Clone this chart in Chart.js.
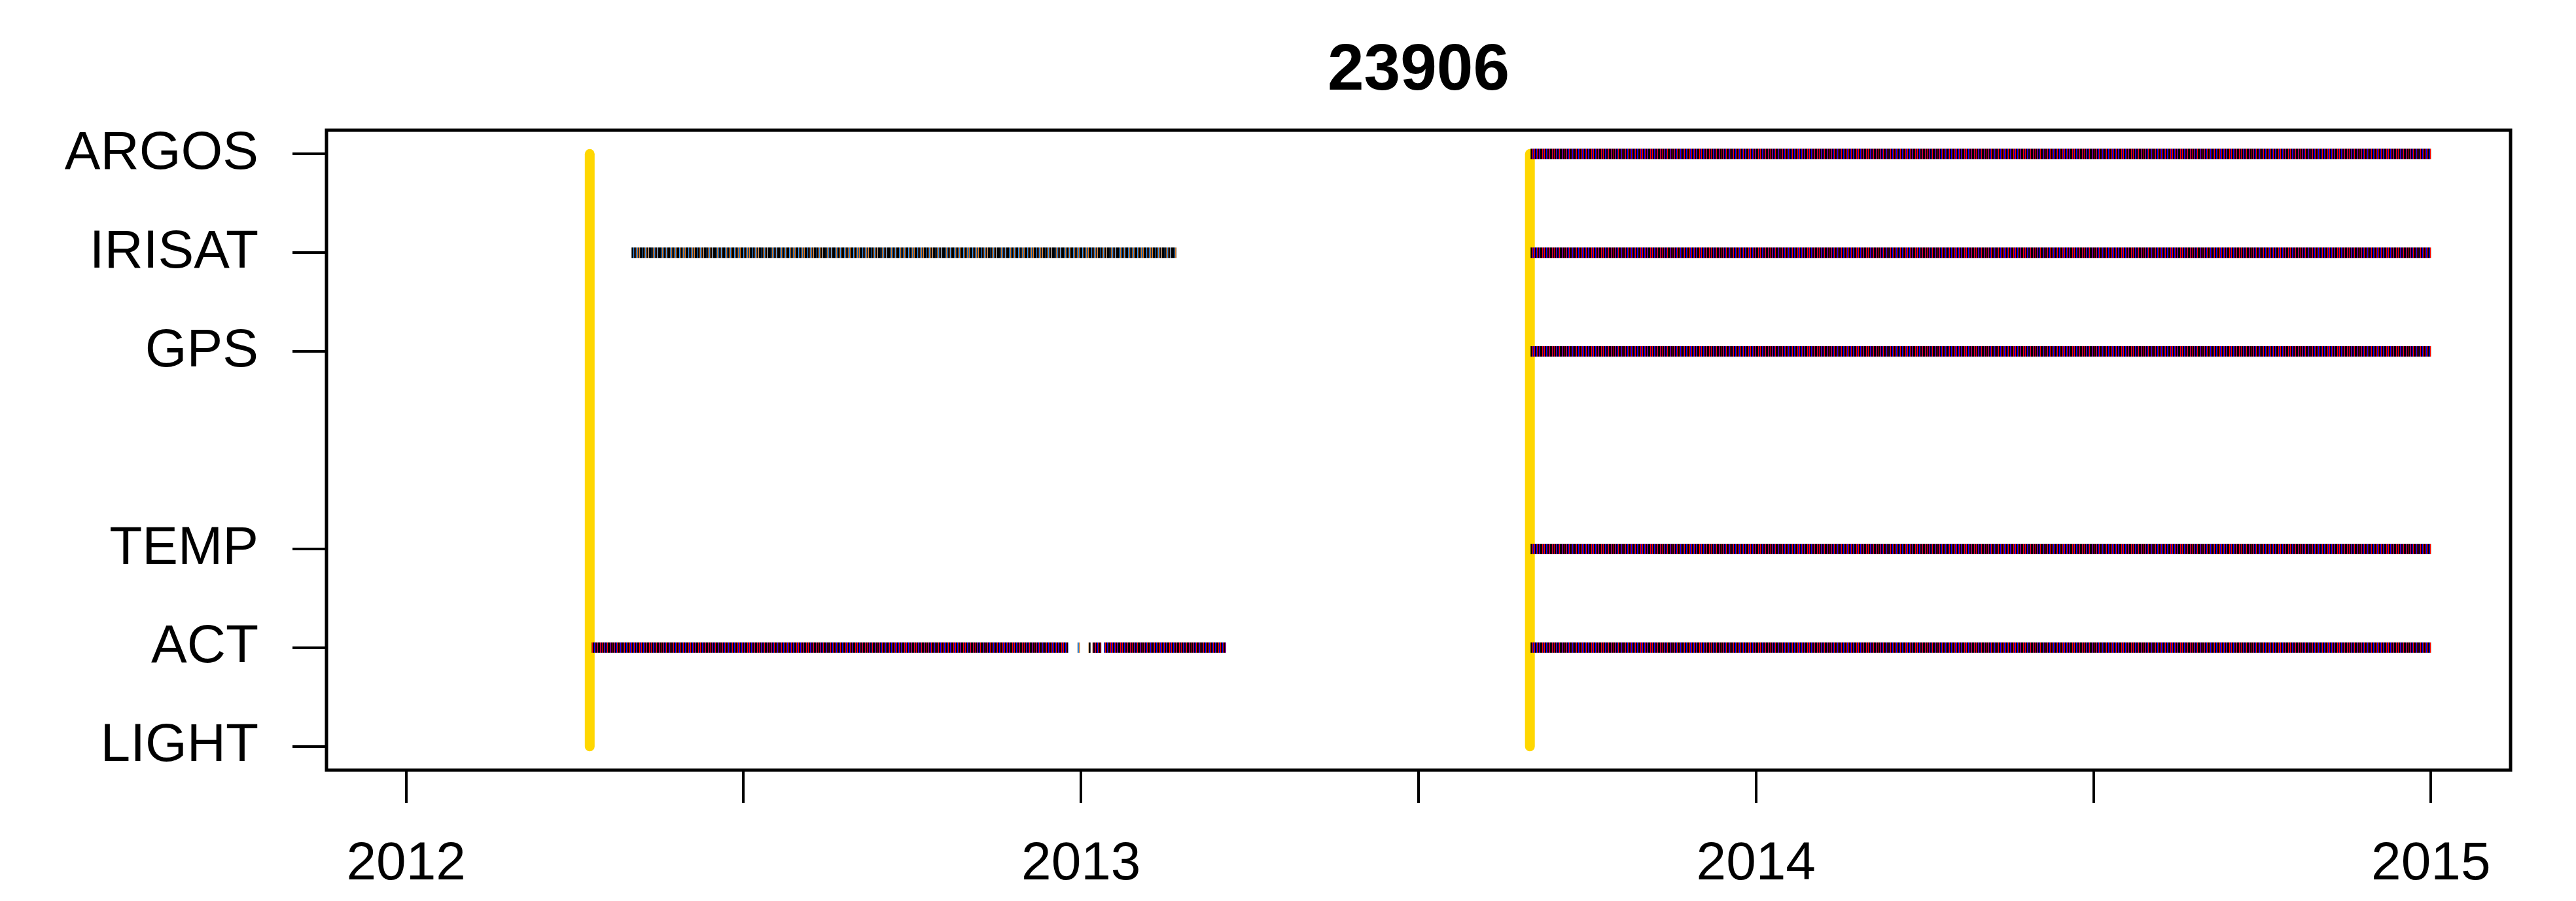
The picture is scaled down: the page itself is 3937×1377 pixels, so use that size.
<!DOCTYPE html>
<html lang="en">
<head>
    <meta charset="UTF-8">
    <title>23906</title>
    <script src="https://cdn.jsdelivr.net/npm/chart.js"></script>
    <style>
        body { margin: 0; background: #fff; }
        canvas { display: block; }
    </style>
</head>
<body>
    <canvas id="chart" width="3937" height="1377"></canvas>

    <script>
        // title and axes
        const chartTitle = "23906";
        const sensorNames = ["LIGHT", "ACT", "TEMP", "GPS", "IRISAT", "ARGOS"];
        const sensorRows = [1, 2, 3, 5, 6, 7];
        const xTicks = [2012, 2012.5, 2013, 2013.5, 2014, 2014.5, 2015];
        const xTickLabels = ["2012", "", "2013", "", "2014", "", "2015"];

        // deployment dates (decimal years)
        const deployDates = [2012.272, 2013.665];

        // recording periods, one entry per segment
        const segSensor = ["IRISAT", "ACT", "ACT", "ACT", "ACT", "ACT",
                           "ARGOS", "IRISAT", "GPS", "TEMP", "ACT"];
        const segStart = [2012.334, 2012.275, 2012.995, 2013.011, 2013.017, 2013.034,
                          2013.666, 2013.666, 2013.666, 2013.666, 2013.666];
        const segEnd = [2013.141, 2012.981, 2012.998, 2013.014, 2013.030, 2013.215,
                        2015.0, 2015.0, 2015.0, 2015.0, 2015.0];
        const segPalette = ["irisat", "tag", "irisat", "irisat", "tag", "tag",
                            "tag", "tag", "tag", "tag", "tag"];

        // striped strokes, like the many per-day marks in the original
        function stripes(colors) {
            const c = document.createElement("canvas");
            c.width = colors.length;
            c.height = 1;
            const g = c.getContext("2d");
            colors.forEach((col, i) => { g.fillStyle = col; g.fillRect(i, 0, 1, 1); });
            return g.createPattern(c, "repeat");
        }
        const patterns = {
            tag: stripes(["#000", "#000", "#f00", "#00f", "#000", "#f00", "#000", "#000",
                          "#00f", "#f00", "#000", "#000", "#00f", "#f00", "#000"]),
            irisat: stripes(["#000", "#000", "#3399ff", "#000", "#e07b20", "#000", "#3399ff",
                             "#000", "#e07b20", "#000", "#3399ff", "#e07b20", "#000", "#000"])
        };

        function rowOf(name) {
            return sensorRows[sensorNames.indexOf(name)];
        }

        const datasets = [];
        segSensor.forEach((s, i) => {
            datasets.push({
                data: [{ x: segStart[i], y: rowOf(s) }, { x: segEnd[i], y: rowOf(s) }],
                borderColor: patterns[segPalette[i]],
                borderWidth: 16,
                borderCapStyle: "butt",
                pointRadius: 0,
                order: 0
            });
        });
        deployDates.forEach(d => {
            datasets.push({
                data: [{ x: d, y: sensorRows[0] }, { x: d, y: sensorRows[sensorRows.length - 1] }],
                borderColor: "#ffd700",
                borderWidth: 15,
                borderCapStyle: "round",
                pointRadius: 0,
                order: 1
            });
        });

        const frame = {
            id: "frame",
            afterDraw(chart) {
                const ctx = chart.ctx;
                const a = chart.chartArea;
                ctx.save();
                ctx.strokeStyle = "#000";
                ctx.lineWidth = 5;
                ctx.strokeRect(a.left, a.top, a.right - a.left, a.bottom - a.top);
                ctx.fillStyle = "#000";
                ctx.font = "bold 100px 'Liberation Sans', Arial, sans-serif";
                ctx.textAlign = "center";
                ctx.textBaseline = "alphabetic";
                ctx.fillText(chartTitle, (a.left + a.right) / 2, 137);
                ctx.restore();
            }
        };

        const tickFont = { family: "'Liberation Sans', Arial, sans-serif", size: 82 };

        new Chart(document.getElementById("chart"), {
            type: "line",
            data: { datasets: datasets },
            plugins: [frame],
            options: {
                responsive: false,
                devicePixelRatio: 1,
                animation: false,
                layout: { padding: { top: 199, right: 100, left: 0, bottom: 0 } },
                plugins: { legend: { display: false }, tooltip: { enabled: false } },
                scales: {
                    x: {
                        type: "linear",
                        min: 2011.882,
                        max: 2015.118,
                        afterBuildTicks: scale => { scale.ticks = xTicks.map(v => ({ value: v })); },
                        afterFit: scale => { scale.height = 200; },
                        ticks: {
                            autoSkip: false,
                            maxRotation: 0,
                            padding: 45,
                            color: "#000",
                            font: tickFont,
                            callback: v => xTickLabels[xTicks.indexOf(v)]
                        },
                        grid: { drawOnChartArea: false, tickLength: 50, lineWidth: 4, color: "#000" },
                        border: { display: false }
                    },
                    y: {
                        type: "linear",
                        min: 0.76,
                        max: 7.24,
                        afterBuildTicks: scale => { scale.ticks = sensorRows.map(v => ({ value: v })); },
                        afterFit: scale => { scale.width = 499; },
                        ticks: {
                            autoSkip: false,
                            padding: 52,
                            color: "#000",
                            font: tickFont,
                            callback: v => sensorNames[sensorRows.indexOf(v)]
                        },
                        grid: { drawOnChartArea: false, tickLength: 52, lineWidth: 4, color: "#000" },
                        border: { display: false }
                    }
                }
            }
        });
    </script>
</body>
</html>
